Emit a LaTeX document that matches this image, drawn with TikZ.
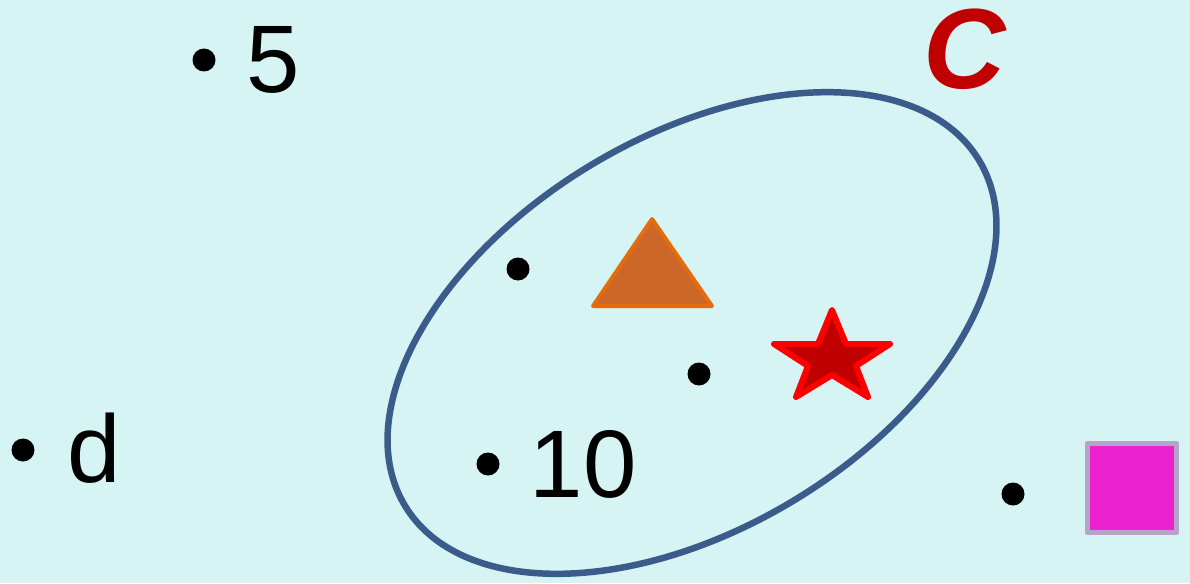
\documentclass[tikz,border=0pt]{standalone}
\usepackage{fontspec}
\setmainfont{Liberation Sans}
\definecolor{bgc}{RGB}{214,244,243}
\definecolor{ellc}{RGB}{59,92,138}
\definecolor{ctext}{RGB}{192,0,0}
\definecolor{trifill}{RGB}{205,102,41}
\definecolor{triline}{RGB}{228,108,10}
\definecolor{starfill}{RGB}{192,0,0}
\definecolor{starline}{RGB}{255,0,0}
\definecolor{sqfill}{RGB}{236,34,208}
\definecolor{sqline}{RGB}{180,162,200}
\begin{document}
\begin{tikzpicture}[x=1pt,y=-1pt,
  dot/.style={circle,fill=black,inner sep=0pt,minimum size=23pt},
  lbl/.style={anchor=base west,inner sep=0pt,font=\fontsize{96}{100}\selectfont},
  setline/.style={draw=ellc,line width=6.5pt},
  trishape/.style={fill=trifill,draw=triline,line width=4pt,line join=round},
  starshape/.style={fill=starfill,draw=starline,line width=6pt,line join=round},
  sqshape/.style={fill=sqfill,draw=sqline,line width=5.5pt,line join=round}]
\fill[bgc] (0,0) rectangle (1190,583);
\useasboundingbox (0,0) rectangle (1190,583);
% set C
\coordinate (E) at (692,333);
\draw[setline, rotate around={31:(E)}] (E) ellipse [x radius=335pt, y radius=196pt];
\node[anchor=base west,inner sep=0pt,text=ctext,font=\fontsize{114}{116}\selectfont\bfseries\itshape] (Clbl) at (923,89) {C};
% dots and labels
\node[dot] (d5) at (204,60) {};
\node[lbl] (t5) at (246,93) {5};
\node[dot] (dd) at (23,450) {};
\node[lbl] (td) at (67,482) {d};
\node[dot] (d10) at (488,464) {};
\node[lbl] (t10) at (529.5,497) {10};
\node[dot] (dA) at (518,269) {};
\node[dot] (dB) at (699,374) {};
\node[dot] (dC) at (1013,494) {};
% triangle
\draw[trishape] (652,219) -- (712,306) -- (593,306) -- cycle;
% star
\draw[starshape] (832,310) -- (846,344) -- (890,344) -- (856,366) -- (868,397)
  -- (832,375) -- (796,397) -- (808,366) -- (774,344) -- (818,344) -- cycle;
% square
\draw[sqshape] (1087.5,443.5) rectangle (1176.5,532.5);
\end{tikzpicture}
\end{document}
